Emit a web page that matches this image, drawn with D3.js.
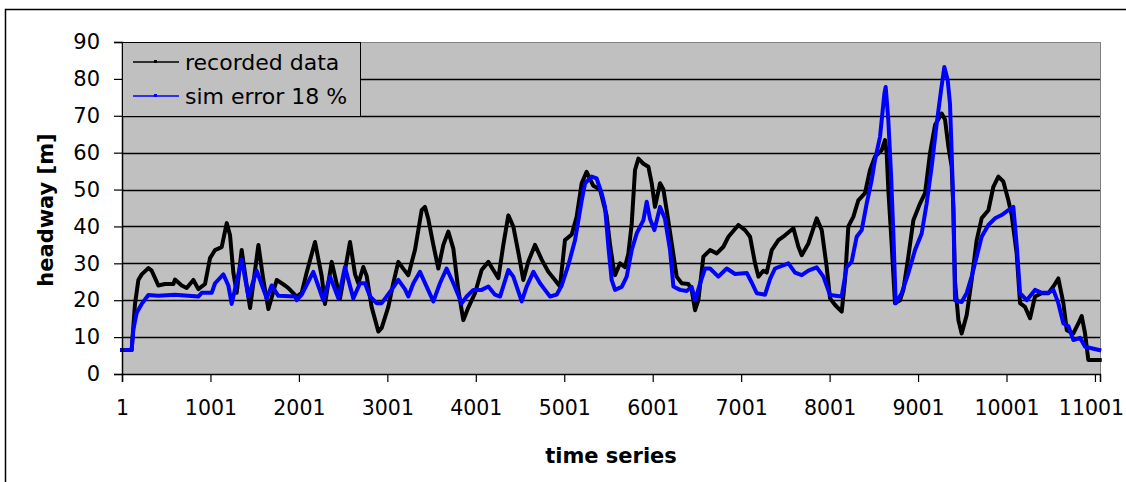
<!DOCTYPE html>
<html>
<head>
<meta charset="utf-8">
<script src="https://cdn.jsdelivr.net/npm/d3@7"></script>
<style>
  body { margin: 0; background: #fff; }
  svg { display: block; }
  text { font-family: "DejaVu Sans", sans-serif; fill: #000; }
</style>
</head>
<body>
<div id="chart"></div>
<script>
// tick labels
const xTickSteps = [1, 1001, 2001, 3001, 4001, 5001, 6001, 7001, 8001, 9001, 10001, 11001];
const yTickValues = [0, 10, 20, 30, 40, 50, 60, 70, 80, 90];

const recordedStep = [1, 110, 148, 186, 224, 299, 337, 412, 487, 582, 600, 676, 732, 808, 864, 940, 996, 1053, 1128, 1185,
  1222, 1260, 1298, 1354, 1411, 1449, 1543, 1599, 1656, 1750, 1844, 1882, 1976, 2033, 2089, 2183, 2259, 2296, 2372, 2466,
  2579, 2636, 2673, 2729, 2767, 2823, 2899, 2937, 3012, 3068, 3125, 3182, 3238, 3313, 3389, 3426, 3464, 3521, 3577, 3634,
  3690, 3747, 3803, 3860, 3916, 3992, 4067, 4143, 4199, 4256, 4312, 4369, 4425, 4482, 4538, 4595, 4670, 4746, 4821, 4896,
  4953, 5009, 5085, 5141, 5198, 5254, 5330, 5405, 5480, 5519, 5556, 5575, 5632, 5688, 5726, 5764, 5801, 5839, 5896, 5952,
  5990, 6027, 6084, 6122, 6159, 6216, 6272, 6329, 6404, 6442, 6480, 6517, 6574, 6649, 6725, 6800, 6857, 6970, 7045, 7102,
  7158, 7196, 7252, 7290, 7347, 7422, 7497, 7592, 7648, 7686, 7761, 7855, 7912, 7968, 8006, 8063, 8138, 8175, 8213, 8269,
  8326, 8401, 8458, 8514, 8590, 8627, 8646, 8665, 8703, 8740, 8797, 8835, 8891, 8948, 9023, 9080, 9136, 9193, 9268, 9306,
  9344, 9381, 9400, 9419, 9457, 9494, 9551, 9607, 9664, 9720, 9796, 9852, 9909, 9965, 10022, 10060, 10116, 10154, 10210, 10267,
  10323, 10399, 10474, 10531, 10587, 10644, 10682, 10757, 10813, 10851, 10889, 10926, 11055];
const recordedHeadway = [6.5, 6.5, 19, 25.5, 27, 28.7, 28, 24, 24.4, 24.4, 25.6, 24, 23.3, 25.5, 23, 24.4, 31.4, 33.6, 34.4, 40.9,
  37.7, 27.5, 22, 33.6, 24, 17.9, 35, 25.5, 17.6, 25.5, 24, 23.3, 21, 22, 27.5, 35.8, 26.5, 19, 30.4, 20.5,
  35.8, 27, 24.6, 29, 26.6, 18.2, 11.5, 12.5, 18.2, 24.6, 30.4, 28.5, 26.8, 33.6, 44.4, 45.3, 42, 35, 28.6, 35,
  38.6, 34, 22.8, 14.6, 18, 21.9, 28.2, 30.4, 28.2, 26, 35, 43, 40, 33, 25.5, 30.5, 35, 31, 27.7, 25.5,
  23.7, 36.3, 37.8, 42.6, 51.7, 54.8, 51, 50, 43, 35, 29, 26.8, 30, 29, 32.7, 40.8, 55.3, 58.4, 57, 56.2,
  51.7, 45.3, 51.7, 50, 44.4, 35.4, 26.4, 24.6, 24.4, 22.8, 17.3, 20, 31.8, 33.6, 32.7, 34.5, 37.2, 40.4, 39, 37.2,
  30, 26.4, 28, 27.5, 33.6, 36.3, 37.6, 39.5, 34.5, 32.2, 35.4, 42.2, 39, 29, 20.5, 18.7, 16.9, 25.5, 40, 42.6,
  47.1, 49, 55.3, 58.9, 60.7, 63.4, 60, 50, 35, 19.2, 20, 22.8, 31.8, 41.7, 46.2, 49, 59.8, 67.5, 70.6, 69,
  61.6, 56.2, 45, 25, 14.6, 11, 16, 25.5, 36.3, 42.2, 44.4, 50.7, 53.5, 52.2, 47.1, 43, 32.7, 19.2, 18.2, 15.1,
  21, 21.9, 21.9, 23.7, 25.9, 19.2, 11.9, 11, 13.7, 15.7, 11, 3.8, 3.8];

// sim error 18 %
const simStep = [1, 110, 129, 167, 224, 299, 412, 600, 864, 902, 1015, 1053, 1147, 1203, 1241, 1354, 1430, 1524, 1637, 1693,
  1769, 1957, 1976, 2033, 2164, 2277, 2353, 2447, 2522, 2616, 2692, 2748, 2805, 2880, 2937, 2993, 3068, 3125, 3200, 3238,
  3295, 3370, 3445, 3521, 3596, 3671, 3747, 3841, 3898, 3973, 4067, 4143, 4218, 4275, 4369, 4425, 4520, 4576, 4652, 4727,
  4783, 4840, 4915, 4972, 5047, 5123, 5198, 5236, 5311, 5367, 5424, 5462, 5500, 5537, 5575, 5651, 5707, 5764, 5820, 5896,
  5933, 5971, 6020, 6084, 6140, 6197, 6235, 6310, 6385, 6442, 6480, 6536, 6593, 6649, 6743, 6838, 6932, 7064, 7120, 7177,
  7271, 7328, 7384, 7535, 7610, 7686, 7761, 7855, 7931, 8006, 8137, 8194, 8250, 8307, 8364, 8420, 8477, 8514, 8571, 8620,
  8635, 8665, 8695, 8722, 8748, 8816, 8891, 8967, 9042, 9098, 9155, 9212, 9261, 9298, 9336, 9362, 9381, 9400, 9419, 9494,
  9551, 9607, 9664, 9720, 9796, 9871, 9946, 10022, 10078, 10116, 10154, 10229, 10323, 10399, 10474, 10531, 10587, 10644, 10700, 10757,
  10832, 10889, 11050];
const simHeadway = [6.5, 6.5, 12, 16.6, 19, 21.4, 21.2, 21.5, 21, 22, 22, 24.6, 27, 24, 19, 31, 21, 28, 20.5, 24,
  21.2, 21, 20, 21.5, 27.7, 20, 26.4, 20.5, 29, 20.5, 24.6, 24.6, 21, 19.2, 19.2, 21, 23.5, 25.5, 23, 21,
  24.6, 27.7, 23.7, 19.7, 24.6, 28.6, 24.6, 19.2, 21, 22.8, 22.8, 23.7, 21.5, 21, 28.2, 26.4, 19.7, 23.7, 27.7, 24.6,
  22.8, 21, 21.5, 24, 29.5, 36.3, 47, 51.7, 53.5, 53, 49, 45.3, 34.5, 25.5, 22.8, 23.6, 26.4, 33.6, 38.1, 41.7,
  46.7, 42, 39, 45.3, 42, 33.6, 23.7, 22.8, 22.5, 23.6, 20, 24.5, 28.6, 28.6, 26.4, 28.6, 27.1, 27.4, 24.8, 21.9,
  21.5, 25.8, 28.6, 30, 27.5, 26.8, 28, 28.9, 26.4, 21.4, 21, 29, 30.4, 37.2, 39, 46.2, 52.6, 58, 64.3, 76,
  77.8, 68.8, 54.4, 38, 19.2, 21.9, 27.3, 33.6, 38.1, 46.2, 56.2, 67.9, 76.9, 83.2, 79.7, 73.3, 60, 45, 20, 19.5,
  22, 26.4, 31.8, 37.2, 40.4, 42.2, 43.1, 44.4, 45.3, 35, 21.9, 20, 22.8, 22, 22, 22.8, 19.2, 13.7, 13, 9.2,
  9.8, 7.4, 6.5];

const seriesNames = ["recorded data", "sim error 18 %"];
const seriesColors = ["#000000", "#0000ff"];

const width = 1126, height = 482;
const plot = { left: 122, right: 1100, top: 42, bottom: 374 };

const svg = d3.select("#chart").append("svg")
  .attr("width", width)
  .attr("height", height);

// outer chart frame
svg.append("rect")
  .attr("x", 5.5).attr("y", 9.5)
  .attr("width", 1200).attr("height", 600)
  .attr("fill", "#fff")
  .attr("stroke", "#000")
  .attr("stroke-width", 1.5);

const x = d3.scaleLinear().domain([1, 11058]).range([plot.left, plot.right]);
const y = d3.scaleLinear().domain([0, 90]).range([plot.bottom, plot.top]);

// plot area
svg.append("rect")
  .attr("x", plot.left).attr("y", plot.top)
  .attr("width", plot.right - plot.left).attr("height", plot.bottom - plot.top)
  .attr("fill", "#c0c0c0")
  .attr("stroke", "#808080")
  .attr("stroke-width", 1)
  .attr("shape-rendering", "crispEdges");

// gridlines
svg.append("g")
  .selectAll("line")
  .data(yTickValues.filter(d => d > 0 && d < 90))
  .join("line")
    .attr("x1", plot.left).attr("x2", plot.right)
    .attr("y1", d => Math.round(y(d)) + 0.5).attr("y2", d => Math.round(y(d)) + 0.5)
    .attr("stroke", "#000")
    .attr("stroke-width", 1.3);

// series
const line = d3.line()
  .x(d => x(d[0]))
  .y(d => y(d[1]));

const seriesData = [
  d3.zip(recordedStep, recordedHeadway),
  d3.zip(simStep, simHeadway)
];

svg.append("g")
  .selectAll("path")
  .data(seriesData)
  .join("path")
    .attr("d", line)
    .attr("fill", "none")
    .attr("stroke", (d, i) => seriesColors[i])
    .attr("stroke-width", 4)
    .attr("stroke-linejoin", "round")
    .attr("stroke-linecap", "square");

// y axis
const yAxis = svg.append("g")
  .attr("transform", `translate(${plot.left},0)`)
  .call(d3.axisLeft(y).tickValues(yTickValues).tickSize(8).tickPadding(14));
yAxis.select(".domain").attr("stroke", "#000").attr("stroke-width", 1.5);
yAxis.selectAll(".tick line").attr("stroke", "#000").attr("stroke-width", 1.2);
yAxis.selectAll(".tick text")
  .attr("font-size", 21)
  .attr("font-family", "DejaVu Sans")
  .attr("fill", "#000");

// x axis
const xAxis = svg.append("g")
  .attr("transform", `translate(0,${plot.bottom})`)
  .call(d3.axisBottom(x).tickValues(xTickSteps).tickFormat(d3.format("d")).tickSize(8).tickPadding(18));
xAxis.select(".domain").attr("stroke", "#000").attr("stroke-width", 1.5);
xAxis.selectAll(".tick line").attr("stroke", "#000").attr("stroke-width", 1.2);
xAxis.selectAll(".tick text")
  .attr("font-size", 20.5)
  .attr("font-family", "DejaVu Sans")
  .attr("fill", "#000");
// last label sits against the window edge, nudge it in like the original
xAxis.selectAll(".tick text").filter(d => d === 11001).attr("dx", -4);

// axis titles
svg.append("text")
  .attr("x", (plot.left + plot.right) / 2)
  .attr("y", 463)
  .attr("text-anchor", "middle")
  .attr("font-size", 21)
  .attr("font-weight", "bold")
  .text("time series");

svg.append("text")
  .attr("transform", "translate(53,210) rotate(-90)")
  .attr("text-anchor", "middle")
  .attr("font-size", 21)
  .attr("font-weight", "bold")
  .text("headway [m]");

// legend
const legend = svg.append("g");
legend.append("rect")
  .attr("x", plot.left + 0.5).attr("y", plot.top + 0.5)
  .attr("width", 238).attr("height", 74)
  .attr("fill", "#c0c0c0")
  .attr("stroke", "#000")
  .attr("stroke-width", 1);

const item = legend.selectAll("g.item")
  .data(seriesNames)
  .join("g")
    .attr("class", "item")
    .attr("transform", (d, i) => `translate(0,${62 + i * 34})`);

item.append("line")
  .attr("x1", 133).attr("x2", 179)
  .attr("y1", 0).attr("y2", 0)
  .attr("stroke", (d, i) => seriesColors[i])
  .attr("stroke-width", 1.5);

item.append("rect")
  .attr("x", 154).attr("y", -2)
  .attr("width", 3).attr("height", 3)
  .attr("fill", (d, i) => seriesColors[i]);

item.append("text")
  .attr("x", 185)
  .attr("y", 8)
  .attr("font-size", 22)
  .text(d => d);
</script>
</body>
</html>
